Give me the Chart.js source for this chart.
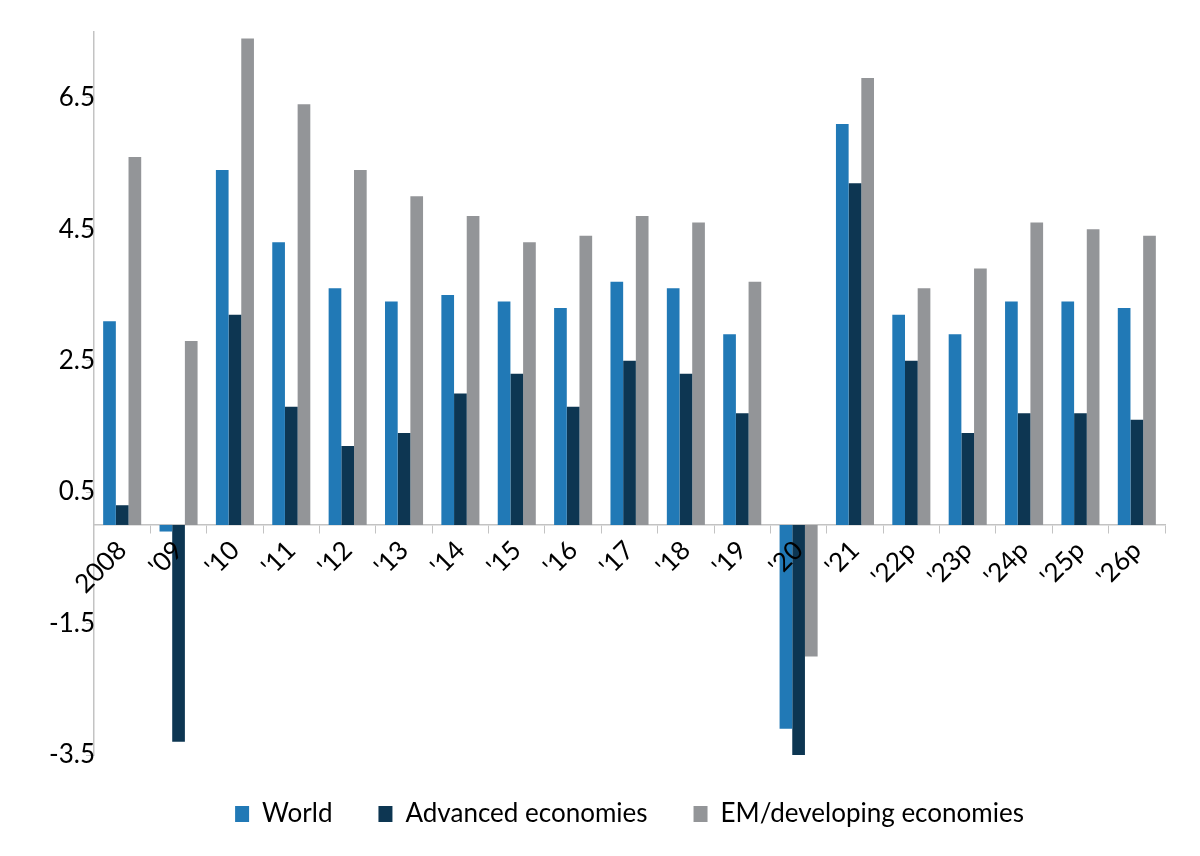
<!DOCTYPE html>
<html lang="en">
<head>
    <meta charset="UTF-8">
    <title>GDP growth</title>
    <script src="https://cdn.jsdelivr.net/npm/chart.js@4.4.1/dist/chart.umd.min.js"></script>
    <style>
        html, body {
            margin: 0;
            padding: 0;
            background: #fff;
        }
        .chart-container {
            position: relative;
            width: 1200px;
            height: 856px;
        }
    </style>
</head>
<body>
    <div class="chart-container">
        <canvas id="chart"></canvas>
    </div>

    <script>
        // data
        const years = ['2008', "'09", "'10", "'11", "'12", "'13", "'14", "'15", "'16", "'17",
                       "'18", "'19", "'20", "'21", "'22p", "'23p", "'24p", "'25p", "'26p"];
        const world    = [3.1, -0.1, 5.4, 4.3, 3.6, 3.4, 3.5, 3.4, 3.3, 3.7, 3.6, 2.9, -3.1, 6.1, 3.2, 2.9, 3.4, 3.4, 3.3];
        const advanced = [0.3, -3.3, 3.2, 1.8, 1.2, 1.4, 2.0, 2.3, 1.8, 2.5, 2.3, 1.7, -3.5, 5.2, 2.5, 1.4, 1.7, 1.7, 1.6];
        const emerging = [5.6, 2.8, 7.4, 6.4, 5.4, 5.0, 4.7, 4.3, 4.4, 4.7, 4.6, 3.7, -2.0, 6.8, 3.6, 3.9, 4.6, 4.5, 4.4];
        const yTicks = [-3.5, -1.5, 0.5, 2.5, 4.5, 6.5];

        const FONT = 'Lato, "Open Sans", sans-serif';
        const axisColor = '#c3c3c3';

        function series(label, data, color) {
            return {
                label: label,
                data: data,
                backgroundColor: color,
                borderWidth: 0,
                barPercentage: 1.0,
                categoryPercentage: 0.675
            };
        }

        const ctx = document.getElementById('chart').getContext('2d');
        new Chart(ctx, {
            type: 'bar',
            data: {
                labels: years,
                datasets: [
                    series('World', world, '#2179b6'),
                    series('Advanced economies', advanced, '#0d3652'),
                    series('EM/developing economies', emerging, '#939598')
                ]
            },
            options: {
                responsive: true,
                maintainAspectRatio: false,
                animation: false,
                layout: {
                    padding: { left: 22, right: 35, top: 32, bottom: 19 }
                },
                plugins: {
                    legend: {
                        position: 'bottom',
                        fullSize: false,
                        labels: {
                            font: { family: FONT, size: 26 },
                            color: '#000',
                            boxWidth: 14,
                            boxHeight: 16,
                            padding: 46
                        }
                    },
                    tooltip: { enabled: false }
                },
                scales: {
                    x: {
                        // axis line sits on zero, labels hang below it
                        position: { y: 0 },
                        afterFit: function(scale) {
                            scale.paddingLeft = 0;
                        },
                        grid: {
                            drawOnChartArea: false,
                            color: axisColor,
                            tickLength: 8
                        },
                        border: { color: axisColor, width: 1.5 },
                        ticks: {
                            z: 1,
                            color: '#000',
                            font: { family: FONT, size: 26 },
                            minRotation: 45,
                            maxRotation: 45,
                            padding: 2,
                            autoSkip: false
                        }
                    },
                    y: {
                        min: -3.5,
                        max: 7.5,
                        afterBuildTicks: function(scale) {
                            scale.ticks = yTicks.map(v => ({ value: v }));
                        },
                        afterFit: function(scale) {
                            scale.width = 72;
                        },
                        grid: {
                            drawOnChartArea: false,
                            color: axisColor,
                            tickLength: 8
                        },
                        border: { color: axisColor, width: 1.5 },
                        ticks: {
                            color: '#000',
                            font: { family: FONT, size: 26 },
                            padding: -9,
                            callback: v => v.toFixed(1)
                        }
                    }
                }
            }
        });
    </script>
</body>
</html>
